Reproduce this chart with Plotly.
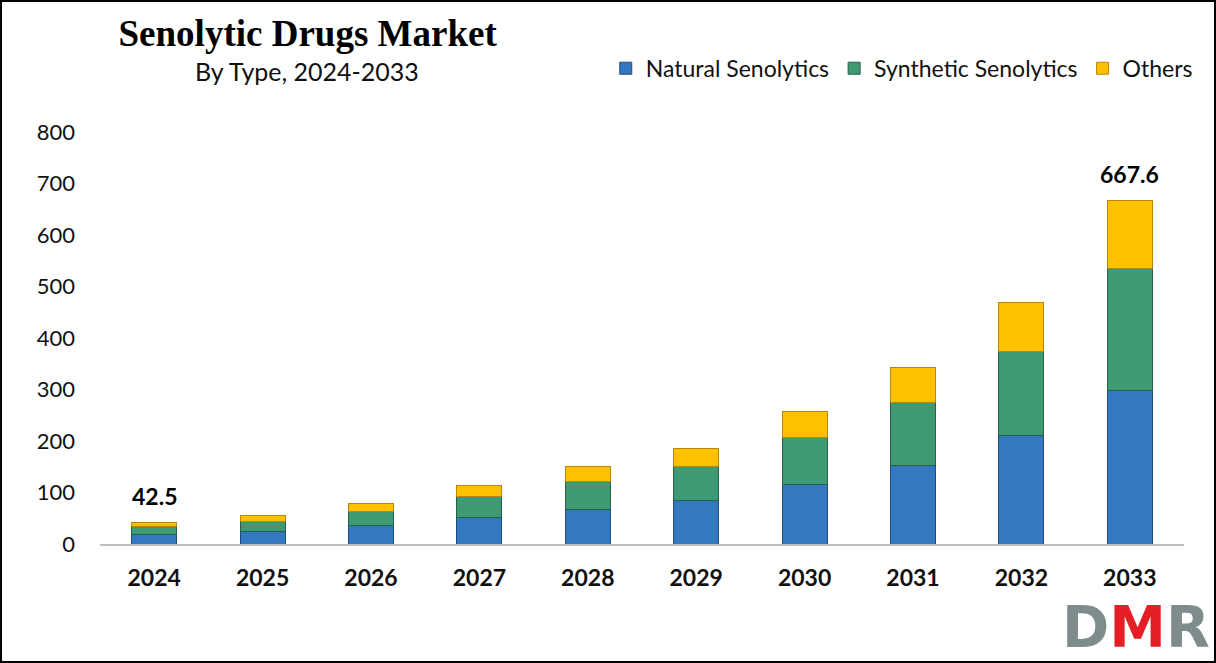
import plotly.graph_objects as go

years = ["2024", "2025", "2026", "2027", "2028", "2029", "2030", "2031", "2032", "2033"]
natural = [19.0, 25.0, 35.0, 52.0, 67.0, 84.0, 116.0, 152.0, 210.0, 299.0]
synthetic = [15.0, 19.0, 28.0, 40.0, 55.0, 66.0, 90.0, 122.0, 163.0, 236.9]
others = [8.5, 11.0, 16.0, 22.0, 29.0, 36.0, 51.0, 68.0, 95.0, 131.7]
top_labels = ["42.5", "", "", "", "", "", "", "", "", "667.6"]
y_ticks = [0, 100, 200, 300, 400, 500, 600, 700, 800]

font_main = "Lato, Calibri, Open Sans, sans-serif"

fig = go.Figure()
series = [
    ("Natural Senolytics", natural, "#3478C0", "#1F4E7A"),
    ("Synthetic Senolytics", synthetic, "#3E9A73", "#26604A"),
    ("Others", others, "#FFC000", "#B8860B"),
]
for name, vals, col, edge in series:
    fig.add_trace(go.Bar(
        x=years, y=vals, name=name,
        marker=dict(color=col, line=dict(color=edge, width=1)),
        width=0.415,
    ))

totals = [a + b + c for a, b, c in zip(natural, synthetic, others)]
for i, (lab, tot) in enumerate(zip(top_labels, totals)):
    if lab:
        fig.add_annotation(x=i, y=tot, text="<b>" + lab + "</b>", showarrow=False,
                           yanchor="bottom", yshift=10,
                           font=dict(family=font_main, size=23, color="#000000"))

fig.update_layout(
    barmode="stack",
    width=1216, height=663,
    paper_bgcolor="white", plot_bgcolor="white",
    margin=dict(l=100, r=32, t=132, b=119, autoexpand=False),
    showlegend=True,
    legend=dict(orientation="h", xref="container", x=0.985, xanchor="right",
                yref="container", y=0.897, yanchor="middle",
                font=dict(family=font_main, size=23, color="#111111"),
                traceorder="normal", itemwidth=30),
    title=dict(text="<b>Senolytic Drugs Market</b>", x=0.253, xanchor="center",
               y=0.95, yanchor="middle",
               font=dict(family="Liberation Serif, Times New Roman, serif", size=37, color="#000000")),
)

fig.add_annotation(xref="paper", yref="paper", x=0.191, y=1.148, xanchor="center", yanchor="middle",
                   text="By Type, 2024-2033", showarrow=False,
                   font=dict(family=font_main, size=25, color="#111111"))

fig.update_xaxes(
    type="category", range=[-0.5, 9.5], autorange=False,
    showgrid=False, showline=True, linecolor="#BFBFBF", linewidth=2,
    ticks="", ticklabelstandoff=12,
    tickfont=dict(family=font_main, size=23, color="#111111"),
    tickprefix="<b>", ticksuffix="</b>",
)
fig.update_yaxes(
    range=[0, 800], autorange=False, tickvals=y_ticks, showgrid=False, zeroline=False,
    showline=False, ticks="", ticklabelstandoff=24,
    tickfont=dict(family=font_main, size=22, color="#111111"),
)

# frame
fig.add_shape(type="rect", xref="paper", yref="paper", x0=-0.0913, x1=1.0286, y0=-0.2864, y1=1.318,
              line=dict(color="black", width=2))

# logo
fig.add_annotation(xref="paper", yref="paper", x=1.0258, y=-0.2864, xanchor="right", yanchor="bottom",
                   text="<b><span style='color:#7F8C8D'>D</span><span style='color:#E31E24'>M</span><span style='color:#7F8C8D'>R</span></b>",
                   showarrow=False, font=dict(family="DejaVu Sans, Arial", size=57, color="#7F8C8D"))

fig.write_html("out.html", config={"displayModeBar": False},
               post_script="document.body.style.margin='0';document.body.style.overflow='hidden';")
